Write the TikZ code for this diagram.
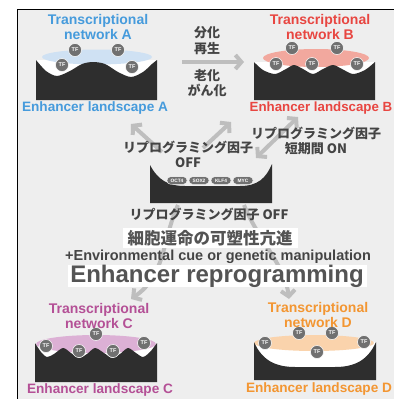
\documentclass[tikz,border=0pt]{standalone}
\usepackage{fontspec}
\setmainfont{Liberation Sans}
\newfontfamily\jpfont{Noto Sans CJK JP}
\usetikzlibrary{arrows.meta}

\definecolor{bgcol}{RGB}{238,238,238}
\definecolor{landcol}{RGB}{46,46,46}
\definecolor{tfgray}{RGB}{112,112,112}
\definecolor{arrowgray}{RGB}{190,190,190}
\definecolor{jpgray}{RGB}{68,68,68}
\definecolor{bluetext}{RGB}{70,155,220}
\definecolor{bluenet}{RGB}{207,225,243}
\definecolor{redtext}{RGB}{232,70,65}
\definecolor{rednet}{RGB}{242,168,158}
\definecolor{purpletext}{RGB}{180,80,150}
\definecolor{purplenet}{RGB}{220,176,213}
\definecolor{orangetext}{RGB}{243,150,50}
\definecolor{orangenet}{RGB}{250,211,172}

\tikzset{
  tf/.style={circle, fill=tfgray, draw=white, line width=0.5pt, inner sep=0pt,
    minimum size=13pt, text=white, font=\bfseries\fontsize{5.5}{5.5}\selectfont},
  pill/.style={rectangle, rounded corners=3.5pt, fill=tfgray, draw=white, line width=0.4pt,
    minimum width=20pt, minimum height=7.5pt, inner sep=0pt, text=white,
    font=\bfseries\fontsize{4.8}{4.8}\selectfont},
  netlabel/.style={align=center, inner sep=0pt, font=\bfseries\fontsize{14}{11.5}\selectfont},
  landlabel/.style={inner sep=0pt, font=\bfseries\fontsize{13.6}{13}\selectfont},
  jptext/.style={align=center, inner sep=0pt, text=jpgray,
    font=\jpfont\bfseries\fontsize{13}{15.5}\selectfont},
  bigarrow/.style={draw=arrowgray, line width=4pt,
    -{Straight Barb[length=6pt, width=14pt]}},
  whitebox/.style={fill=white, inner sep=0pt}
}

\begin{document}
\begin{tikzpicture}[x=1pt, y=-1pt]
	\useasboundingbox (0,0) rectangle (394,399);
	\fill[white] (0,0) rectangle (394,399);
	\fill[bgcol] (17,9) rectangle (394,399);
	\draw[line width=1pt] (17,399) -- (17,9) -- (394,9);

	% arrows sit behind all labels
	\coordinate (agS) at (182,62);
	\coordinate (agE) at (244,62);
	\draw[bigarrow] (agS) -- (agE);
	\coordinate (offAS) at (162,152);
	\coordinate (offAE) at (131,124);
	\draw[bigarrow] (offAS) -- (offAE);
	\coordinate (offBS) at (203,148);
	\coordinate (offBE) at (231,122);
	\draw[bigarrow] (offBS) -- (offBE);
	\coordinate (onS) at (256,158);
	\coordinate (onE) at (298,117);
	\draw[bigarrow, {Straight Barb[length=6pt, width=14pt]}-{Straight Barb[length=6pt, width=14pt]}] (onS) -- (onE);
	\coordinate (repCS) at (178,205);
	\coordinate (repCE) at (131,299);
	\draw[bigarrow] (repCS) .. controls (162,240) and (166,275) .. (repCE);
	\coordinate (repDS) at (244,205);
	\coordinate (repDE) at (289,299);
	\draw[bigarrow] (repDS) .. controls (258,240) and (285,265) .. (repDE);

	% landscape A
	\fill[white] (36,60) rectangle (157,100);
	\fill[bluenet] (97,57) ellipse [x radius=55, y radius=7.5];
	\fill[landcol] (36,100) -- plot[smooth] coordinates {(36,60) (46,71) (57,76) (70,71) (82,64) (93,62) (105,64) (118,72) (131,77) (143,72) (152,64) (157,60)} -- (157,100) -- cycle;
	\node[tf] (tfA1) at (75,50) {TF};
	\node[tf] (tfA2) at (118,50) {TF};
	\node[tf] (tfA3) at (62,65) {TF};
	\node[tf] (tfA4) at (132,67) {TF};
	\node[netlabel, text=bluetext] (netA) at (98,27) {Transcriptional\\network A};
	\node[landlabel, text=bluetext] (landA) at (95,108) {Enhancer landscape A};

	% landscape B
	\fill[white] (254,62) rectangle (375,100);
	\fill[rednet] (316,58) ellipse [x radius=53, y radius=9];
	\fill[landcol] (254,100) -- plot[smooth] coordinates {(254,62) (263,70) (275,74) (286,69) (294,65) (303,69) (313,74) (323,69) (333,65) (342,69) (353,74) (365,70) (375,62)} -- (375,100) -- cycle;
	\node[tf] (tfB1) at (292,48) {TF};
	\node[tf] (tfB2) at (337,48) {TF};
	\node[tf] (tfB3) at (276,64) {TF};
	\node[tf] (tfB4) at (312,64) {TF};
	\node[tf] (tfB5) at (357,64) {TF};
	\node[netlabel, text=redtext] (netB) at (320,27) {Transcriptional\\network B};
	\node[landlabel, text=redtext, font=\bfseries\fontsize{13.3}{13}\selectfont] (landB) at (321,108) {Enhancer landscape B};

	% reprogrammed landscape
	\fill[landcol] (150,165) .. controls (158,180) and (168,186) .. (185,186) -- (240,186)
		.. controls (258,186) and (266,178) .. (272,164) -- (272,203) -- (150,203) -- cycle;
	\node[pill] (oct) at (177,180.5) {OCT4};
	\node[pill] (sox) at (199,180.5) {SOX2};
	\node[pill] (klf) at (221,180.5) {KLF4};
	\node[pill] (myc) at (243,180.5) {MYC};

	% landscape C
	\fill[white] (35,343) rectangle (157,382);
	\fill[purplenet] (96,344) ellipse [x radius=60, y radius=9];
	\fill[landcol] (35,382) -- plot[smooth] coordinates {(35,343) (41,352) (47,357) (54,354) (63,348) (71,353) (79,358) (87,354) (95,348) (104,353) (112,358) (120,354) (128,348) (136,353) (143,357) (150,352) (157,343)} -- (157,382) -- cycle;
	\node[tf] (tfC1) at (96,334) {TF};
	\node[tf] (tfC2) at (46,346) {TF};
	\node[tf] (tfC3) at (79,351) {TF};
	\node[tf] (tfC4) at (113,351) {TF};
	\node[tf] (tfC5) at (144,343) {TF};
	\node[netlabel, text=purpletext] (netC) at (99,316) {Transcriptional\\network C};
	\node[landlabel, text=purpletext] (landC) at (100,390) {Enhancer landscape C};

	% landscape D
	\fill[white] (254,342) rectangle (376,380);
	\fill[orangenet] (314,343) ellipse [x radius=60, y radius=8];
	\fill[landcol] (254,342) .. controls (262,360) and (275,367) .. (295,367) -- (335,367)
		.. controls (355,367) and (368,360) .. (376,342) -- (376,380) -- (254,380) -- cycle;
	\node[tf] (tfD1) at (299,333) {TF};
	\node[tf] (tfD2) at (332,333) {TF};
	\node[tf] (tfD3) at (265,343) {TF};
	\node[tf] (tfD4) at (364,342) {TF};
	\node[tf] (tfD5) at (317,352) {TF};
	\node[netlabel, text=orangetext] (netD) at (318,315) {Transcriptional\\network D};
	\node[landlabel, text=orangetext] (landD) at (319,389) {Enhancer landscape D};

	% japanese labels
	\node[jptext] (diff) at (207,40.5) {分化\\再生};
	\node[jptext] (aging) at (207,83) {老化\\がん化};
	\node[jptext] (offL) at (188,154.5) {リプログラミング因子\\OFF};
	\node[jptext] (onR) at (316,141) {リプログラミング因子\\短期間 ON};
	\node[jptext] (offM) at (209,214) {リプログラミング因子 OFF};
	\node[whitebox, minimum width=175pt, minimum height=20pt] (plasticBox) at (210,238) {};
	\node[jptext, text=black!67, font=\jpfont\bfseries\fontsize{16.5}{17}\selectfont] (plastic) at (210,238) {細胞運命の可塑性亢進};
	\node[inner sep=0pt, text=jpgray, font=\bfseries\fontsize{14.5}{15}\selectfont] (cue) at (218,257) {+Environmental cue or genetic manipulation};
	\node[whitebox, minimum width=299pt, minimum height=22pt] (reproBox) at (217,276) {};
	\node[inner sep=0pt, text=black!67, font=\bfseries\fontsize{24}{24}\selectfont] (repro) at (217,276) {Enhancer reprogramming};
\end{tikzpicture}
\end{document}
